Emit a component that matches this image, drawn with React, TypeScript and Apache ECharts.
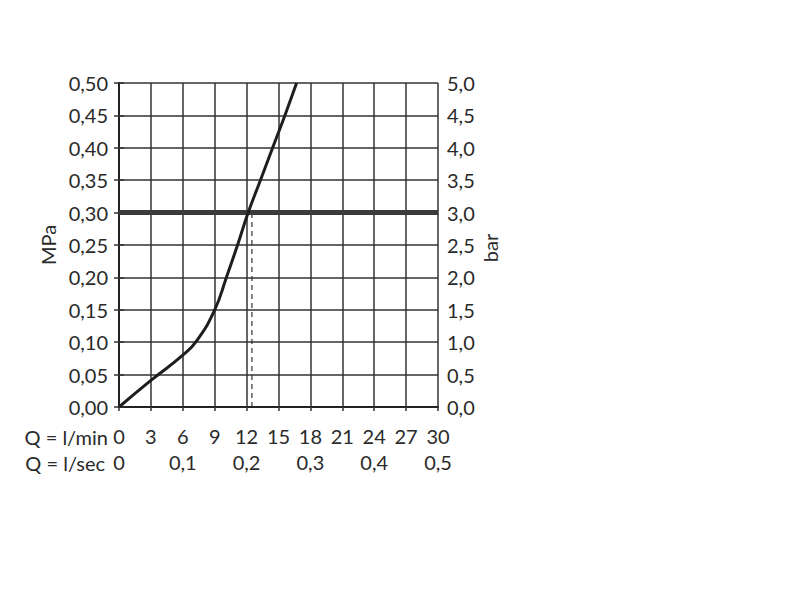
import React, { useEffect, useRef } from "react";
import * as echarts from "echarts";

const flowLpm: number[] = [0, 3, 6, 7.3, 9, 10.1, 11.15, 12.15, 13.3, 14.45, 15.6, 16.7];
const pressureMPa: number[] = [0, 0.041, 0.08, 0.102, 0.15, 0.2, 0.25, 0.3, 0.35, 0.4, 0.45, 0.5];
const referencePressure = 0.3;
const referenceFlow = 12.5;
const xRange = [0, 30];
const xSecRange = [0, 0.5];
const yRange = [0, 0.5];
const yBarRange = [0, 5];

const FONT = "Lato";
const FS = 20;
const TXT = "#2a2a2a";

export default function App() {
  const ref = useRef<HTMLDivElement>(null);
  useEffect(() => {
    if (!ref.current) return;
    const chart = echarts.init(ref.current, undefined, { renderer: "svg" });
    const comma = (v: number, d: number) => (v === 0 && d === 0 ? "0" : v.toFixed(d).replace(".", ","));
    chart.setOption({
      animation: false,
      backgroundColor: "#ffffff",
      textStyle: { fontFamily: FONT },
      grid: { left: 119, top: 83, width: 319, height: 324, containLabel: false },
      xAxis: [
        {
          type: "value",
          min: xRange[0],
          max: xRange[1],
          interval: 3,
          position: "bottom",
          axisLine: { show: true, lineStyle: { color: "#222", width: 2 } },
          axisTick: { show: true, length: 4, inside: false, lineStyle: { color: "#333", width: 1.5 } },
          axisLabel: { color: TXT, fontSize: FS, fontFamily: FONT, margin: 19 },
          splitLine: { show: true, lineStyle: { color: "#333", width: 1.5 } },
        },
        {
          type: "value",
          min: xSecRange[0],
          max: xSecRange[1],
          interval: 0.1,
          position: "bottom",
          offset: 26,
          axisLine: { show: false },
          axisTick: { show: false },
          axisLabel: { color: TXT, fontSize: FS, fontFamily: FONT, margin: 19, formatter: (v: number) => comma(v, v === 0 ? 0 : 1) },
          splitLine: { show: false },
        },
      ],
      yAxis: [
        {
          type: "value",
          min: yRange[0],
          max: yRange[1],
          interval: 0.05,
          position: "left",
          axisLine: { show: true, lineStyle: { color: "#222", width: 2 } },
          axisTick: { show: true, length: 5, lineStyle: { color: "#333", width: 1.5 } },
          axisLabel: { color: TXT, fontSize: FS, fontFamily: FONT, margin: 11, formatter: (v: number) => comma(v, 2) },
          splitLine: { show: true, lineStyle: { color: "#333", width: 1.5 } },
        },
        {
          type: "value",
          min: yBarRange[0],
          max: yBarRange[1],
          interval: 0.5,
          position: "right",
          axisLine: { show: true, lineStyle: { color: "#222", width: 2 } },
          axisTick: { show: true, length: 5, lineStyle: { color: "#333", width: 1.5 } },
          axisLabel: { color: TXT, fontSize: FS, fontFamily: FONT, margin: 9, formatter: (v: number) => comma(v, 1) },
          splitLine: { show: false },
        },
      ],
      graphic: [
        { type: "text", x: 108, y: 437, style: { text: "Q = l/min", fill: TXT, fontSize: FS, fontFamily: FONT, align: "right", verticalAlign: "middle" } },
        { type: "text", x: 105, y: 463, style: { text: "Q = l/sec", fill: TXT, fontSize: FS, fontFamily: FONT, align: "right", verticalAlign: "middle" } },
        {
          type: "text", x: 48, y: 245, rotation: Math.PI / 2,
          style: { text: "MPa", fill: TXT, fontSize: FS, fontFamily: FONT, align: "center", verticalAlign: "middle" },
        },
        {
          type: "text", x: 490, y: 248, rotation: Math.PI / 2,
          style: { text: "bar", fill: TXT, fontSize: FS, fontFamily: FONT, align: "center", verticalAlign: "middle" },
        },
      ],
      series: [
        {
          type: "line",
          data: [[xRange[0], referencePressure], [xRange[1], referencePressure]],
          symbol: "none",
          lineStyle: { color: "#3a3a3a", width: 5 },
          z: 3,
        },
        {
          type: "line",
          data: [[referenceFlow, 0], [referenceFlow, referencePressure]],
          symbol: "none",
          lineStyle: { color: "#333", width: 1.2, type: [5, 4] },
          z: 2,
        },
        {
          type: "line",
          data: flowLpm.map((x, i) => [x, pressureMPa[i]]),
          symbol: "none",
          smooth: 0.5,
          lineStyle: { color: "#1e1e1e", width: 3 },
          z: 4,
        },
      ],
    });
    return () => chart.dispose();
  }, []);
  return <div ref={ref} style={{ position: "absolute", left: 0, top: 0, width: 800, height: 600 }} />;
}
